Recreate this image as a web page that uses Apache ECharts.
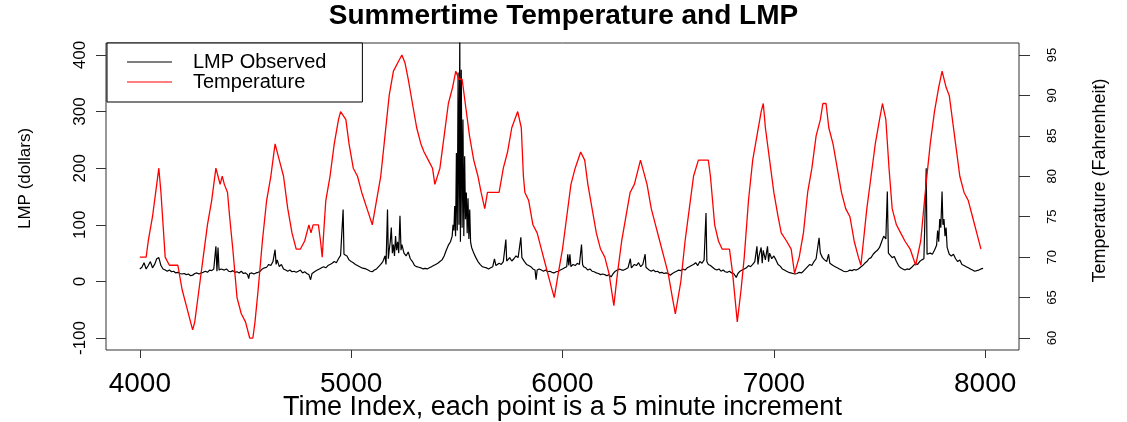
<!DOCTYPE html>
<html>
<head>
<meta charset="utf-8">
<title>Summertime Temperature and LMP</title>
<script src="https://cdn.jsdelivr.net/npm/echarts@6/dist/echarts.min.js"></script>
<style>
  html, body { margin: 0; padding: 0; background: #ffffff; }
  #chart { width: 1127px; height: 422px; }
</style>
</head>
<body>
<div id="chart"></div>
<script>
// Axis ticks
const xTicks = [4000, 5000, 6000, 7000, 8000];
const lmpTicks = [-100, 0, 100, 200, 300, 400];
const tempTicks = [60, 65, 70, 75, 80, 85, 90, 95];

// Observed LMP (dollars): [time index, value]
const lmpPoints = [
  [4000,22],[4010,25],[4020,33],[4030,22],[4040,28],[4050,35],[4060,24],[4070,30],[4080,40],[4090,42],
  [4100,28],[4110,22],[4120,20],[4130,18],[4140,20],[4150,17],[4160,18],[4170,15],[4180,16],[4190,14],
  [4200,13],[4210,14],[4220,12],[4230,13],[4240,10],[4250,11],[4260,14],[4270,15],[4280,13],[4290,15],
  [4300,16],[4310,18],[4320,16],[4330,20],[4340,19],[4350,22],[4360,62],[4365,18],[4370,60],[4375,20],[4385,22],[4390,20],
  [4400,20],[4410,22],[4420,18],[4430,17],[4440,19],[4450,16],[4460,17],[4470,15],[4480,18],[4490,14],
  [4500,15],[4510,12],[4515,5],[4520,14],[4530,15],[4540,13],[4550,15],[4560,16],[4570,18],[4580,22],[4590,24],
  [4600,25],[4610,30],[4620,28],[4630,35],[4640,56],[4645,30],[4650,38],[4660,26],[4670,30],[4680,22],[4690,20],
  [4700,18],[4710,20],[4720,17],[4730,18],[4740,16],[4750,18],[4760,20],[4770,15],[4780,17],[4790,14],
  [4800,12],[4808,3],[4815,14],[4830,18],[4840,20],[4850,22],[4860,24],[4870,26],[4880,24],[4890,28],
  [4900,30],[4910,32],[4920,35],[4930,33],[4940,40],[4950,46],[4962,127],[4966,48],[4970,50],[4980,45],[4990,38],
  [5000,35],[5010,33],[5020,30],[5030,28],[5040,26],[5050,24],[5060,23],[5070,22],[5080,20],[5090,18],
  [5100,17],[5110,20],[5120,22],[5130,26],[5140,30],[5150,35],[5160,45],[5165,30],[5172,127],[5176,40],[5180,55],[5185,70],[5190,95],[5195,50],
  [5200,65],[5205,45],[5210,80],[5215,55],[5220,70],[5225,50],[5231,116],[5236,55],[5240,65],[5250,50],[5260,45],[5270,52],[5280,40],[5290,35],
  [5300,28],[5310,26],[5320,25],[5330,24],[5340,22],[5350,23],[5360,22],[5370,24],[5380,26],[5390,28],
  [5400,30],[5410,32],[5420,35],[5430,38],[5440,45],[5450,55],[5460,64],[5470,70],[5478,80],[5482,100],[5486,90],
  [5490,133],[5494,80],[5498,227],[5502,90],[5506,369],[5510,100],[5514,440],[5517,70],[5521,374],[5525,95],
  [5529,286],[5533,80],[5537,221],[5541,110],[5545,157],[5549,85],[5553,147],[5557,75],[5561,127],[5565,70],[5570,60],[5580,50],[5590,42],
  [5600,35],[5610,30],[5620,26],[5630,25],[5640,24],[5650,22],[5660,24],[5670,26],[5678,40],[5685,28],[5690,30],
  [5700,32],[5710,30],[5720,35],[5732,74],[5736,36],[5740,38],[5750,42],[5760,36],[5770,40],[5780,45],[5790,42],
  [5803,78],[5808,42],[5815,40],[5820,35],[5830,30],[5840,28],[5850,26],[5860,22],[5870,20],[5875,3],[5880,20],[5890,22],
  [5900,20],[5910,18],[5920,20],[5930,17],[5940,18],[5950,16],[5960,15],[5970,17],[5980,18],[5990,20],
  [6000,22],[6010,24],[6020,26],[6025,48],[6030,28],[6035,48],[6040,26],[6050,30],[6060,28],[6070,32],[6080,30],[6090,65],[6095,30],
  [6100,26],[6110,24],[6120,20],[6130,22],[6140,18],[6150,17],[6160,15],[6170,14],[6180,12],[6190,13],
  [6200,12],[6210,10],[6220,12],[6230,8],[6240,14],[6250,18],[6260,20],[6270,22],[6280,20],[6290,20],
  [6300,22],[6310,24],[6321,40],[6326,24],[6330,26],[6340,30],[6350,28],[6360,33],[6370,26],[6380,30],[6391,48],[6395,25],
  [6400,22],[6410,20],[6420,18],[6430,20],[6440,17],[6450,18],[6460,15],[6470,16],[6480,14],[6490,15],
  [6500,14],[6510,11],[6520,14],[6530,16],[6540,18],[6550,20],[6560,19],[6570,22],[6580,20],[6590,24],
  [6600,26],[6610,28],[6620,30],[6630,33],[6640,28],[6650,35],[6660,32],[6670,38],[6679,121],[6683,35],[6690,30],
  [6700,28],[6710,25],[6720,22],[6730,20],[6740,22],[6750,18],[6760,20],[6770,17],[6780,16],[6790,18],
  [6800,15],[6810,14],[6822,7],[6830,14],[6840,18],[6850,20],[6860,22],[6870,24],[6880,28],[6890,26],
  [6900,30],[6910,35],[6920,62],[6925,30],[6930,45],[6940,60],[6945,32],[6950,55],[6960,38],[6970,62],[6975,35],[6980,50],[6990,40],
  [7000,45],[7010,38],[7020,30],[7030,27],[7040,22],[7050,20],[7060,18],[7070,16],[7080,15],[7090,14],
  [7100,13],[7110,14],[7120,16],[7130,15],[7140,18],[7150,22],[7160,26],[7170,30],[7180,28],[7190,35],
  [7200,40],[7214,77],[7220,50],[7230,42],[7240,38],[7250,35],[7259,48],[7265,32],[7270,30],[7280,28],[7290,26],
  [7300,24],[7310,22],[7320,20],[7330,18],[7340,17],[7350,18],[7360,20],[7370,19],[7380,21],[7390,20],
  [7400,22],[7410,25],[7420,28],[7430,32],[7440,35],[7450,40],[7460,42],[7470,48],[7480,52],[7490,55],
  [7500,60],[7510,70],[7520,80],[7530,75],[7537,159],[7542,50],[7550,48],[7560,42],[7570,44],[7580,35],[7590,28],
  [7600,24],[7610,22],[7620,20],[7630,22],[7640,21],[7650,24],[7660,28],[7670,31],[7680,30],[7690,35],
  [7700,38],[7710,40],[7721,200],[7725,48],[7730,45],[7740,50],[7750,48],[7760,55],[7770,64],[7775,90],[7780,70],[7785,110],[7790,95],[7796,159],[7800,100],
  [7805,110],[7810,80],[7815,95],[7820,60],[7830,48],[7840,45],[7850,48],[7860,40],[7870,35],[7880,38],[7890,30],
  [7900,28],[7910,26],[7920,24],[7930,22],[7940,20],[7950,18],[7960,19],[7970,20],[7980,22],[7990,23]
];

// Temperature (Fahrenheit): [time index, value]
const tempPoints = [
  [4000,70],[4020,70],[4030,70],[4040,72],[4060,75],[4080,79],[4090,81],[4100,78],[4110,74],[4120,70],
  [4140,69],[4160,69],[4180,69],[4200,66],[4220,64],[4240,62],[4250,61],[4260,62],[4280,66],[4300,70],
  [4320,74],[4340,77],[4360,81],[4370,80],[4380,79],[4390,80],[4400,79],[4415,78],[4425,75],[4440,71],
  [4460,65],[4480,63],[4500,62],[4520,60],[4535,60],[4545,62],[4560,66],[4580,72],[4600,77],[4620,80],
  [4640,84],[4660,82],[4680,80],[4700,76],[4720,73],[4740,71],[4760,71],[4780,72],[4800,74],[4810,73],
  [4820,74],[4845,74],[4855,72],[4863,70],[4870,73],[4880,77],[4900,80],[4920,84],[4940,87],[4950,88],
  [4975,87],[4990,84],[5010,81],[5030,80],[5050,78],[5075,76],[5100,74],[5120,77],[5140,80],[5160,85],
  [5180,90],[5200,93],[5220,94],[5240,95],[5255,94],[5270,92],[5290,89],[5310,86],[5330,84],[5345,83],
  [5365,82],[5385,81],[5396,79],[5420,81],[5440,85],[5460,89],[5480,91],[5495,93],[5510,92],[5525,92],
  [5540,89],[5560,85],[5580,82],[5600,80],[5615,78],[5632,76],[5645,78],[5660,78],[5700,78],[5720,81],
  [5740,83],[5760,86],[5788,88],[5805,86],[5815,80],[5822,78],[5840,77],[5860,74],[5880,73],[5900,71],
  [5920,69],[5940,67],[5961,65],[5980,68],[6000,71],[6020,75],[6040,79],[6060,81],[6086,83],[6105,82],
  [6120,79],[6140,76],[6160,73],[6180,71],[6200,70],[6220,68],[6243,64],[6260,68],[6280,72],[6300,75],
  [6320,78],[6340,79],[6369,82],[6400,79],[6420,76],[6440,74],[6460,72],[6480,70],[6500,68],[6520,65],
  [6534,63],[6560,67],[6580,72],[6600,76],[6620,80],[6643,82],[6690,82],[6700,80],[6720,74],[6738,72],
  [6755,71],[6790,71],[6805,68],[6827,62],[6845,66],[6860,70],[6880,77],[6900,82],[6920,85],[6940,88],
  [6950,89],[6960,86],[6980,82],[7000,78],[7020,75],[7035,73],[7060,72],[7082,71],[7098,68],[7120,70],
  [7140,73],[7160,78],[7180,81],[7200,85],[7220,87],[7232,89],[7247,89],[7260,86],[7280,84],[7300,81],
  [7320,78],[7340,76],[7360,75],[7380,72],[7400,70],[7412,69],[7440,76],[7460,80],[7480,84],[7500,87],
  [7514,89],[7530,87],[7545,81],[7560,76],[7580,74],[7600,73],[7620,72],[7645,71],[7671,69],[7695,72],
  [7720,79],[7740,84],[7760,88],[7780,91],[7796,93],[7815,91],[7830,90],[7845,87],[7860,84],[7880,80],
  [7900,78],[7920,77],[7940,75],[7960,73],[7980,71]
];

const FONT = '"Liberation Sans", Arial, Helvetica, sans-serif';
const INK = '#000000';
const FRAME = '#333333';

const chart = echarts.init(document.getElementById('chart'), null, { renderer: 'canvas' });

chart.setOption({
  animation: false,
  backgroundColor: '#ffffff',
  title: {
    text: 'Summertime Temperature and LMP',
    left: 'center',
    top: -3,
    textStyle: { fontFamily: FONT, fontSize: 28, fontWeight: 'bold', color: INK }
  },
  legend: {
    orient: 'vertical',
    left: 107,
    top: 43,
    data: ['LMP Observed', 'Temperature'],
    icon: 'rect',
    itemWidth: 45,
    itemHeight: 1,
    itemGap: 0,
    padding: [9, 36, 10, 20],
    borderColor: INK,
    borderWidth: 1,
    backgroundColor: '#ffffff',
    textStyle: { fontFamily: FONT, fontSize: 20, color: INK, lineHeight: 19, padding: [0, 0, 0, 16] }
  },
  grid: {
    left: 106,
    right: 108,
    top: 43,
    bottom: 72,
    outerBoundsMode: 'none',
    containLabel: false,
    show: true,
    borderColor: FRAME,
    borderWidth: 1,
    backgroundColor: 'transparent'
  },
  xAxis: {
    type: 'value',
    min: 3840,
    max: 8160,
    name: 'Time Index, each point is a 5 minute increment',
    nameLocation: 'middle',
    nameGap: 44,
    nameMoveOverlap: false,
    nameTextStyle: { fontFamily: FONT, fontSize: 27, color: INK },
    axisLine: { show: false, onZero: false },
    axisTick: { show: true, customValues: xTicks, length: 8, lineStyle: { color: FRAME } },
    axisLabel: {
      customValues: xTicks,
      formatter: (v) => String(v),
      fontFamily: FONT, fontSize: 28, color: INK, margin: 20
    },
    splitLine: { show: false }
  },
  yAxis: [
    {
      type: 'value',
      position: 'left',
      min: -121.2,
      max: 421.2,
      name: 'LMP (dollars)',
      nameLocation: 'middle',
      nameRotate: 90,
      nameGap: 72,
      nameMoveOverlap: false,
      nameTextStyle: { fontFamily: FONT, fontSize: 17, color: INK, padding: [0, 0, 0, 36] },
      axisLine: { show: false, onZero: false },
      axisTick: { show: true, customValues: lmpTicks, length: 10, lineStyle: { color: FRAME } },
      axisLabel: { customValues: lmpTicks, rotate: 90, fontFamily: FONT, fontSize: 17, color: INK, margin: 17 },
      splitLine: { show: false }
    },
    {
      type: 'value',
      position: 'right',
      min: 58.52,
      max: 96.48,
      name: 'Temperature (Fahrenheit)',
      nameLocation: 'middle',
      nameRotate: 90,
      nameGap: 72,
      nameMoveOverlap: false,
      nameTextStyle: { fontFamily: FONT, fontSize: 18, color: INK, padding: [0, 0, 0, 32] },
      axisLine: { show: false, onZero: false },
      axisTick: { show: true, customValues: tempTicks, length: 11, lineStyle: { color: FRAME } },
      axisLabel: { customValues: tempTicks, rotate: 90, fontFamily: FONT, fontSize: 13, color: INK, margin: 27 },
      splitLine: { show: false }
    }
  ],
  series: [
    {
      name: 'LMP Observed',
      type: 'line',
      yAxisIndex: 0,
      data: lmpPoints,
      showSymbol: false,
      clip: true,
      color: INK,
      lineStyle: { color: INK, width: 1.2 },
      z: 2
    },
    {
      name: 'Temperature',
      type: 'line',
      yAxisIndex: 1,
      data: tempPoints,
      showSymbol: false,
      clip: true,
      color: '#ff0000',
      lineStyle: { color: '#ff0000', width: 1.3 },
      z: 3
    }
  ]
});
</script>
</body>
</html>
